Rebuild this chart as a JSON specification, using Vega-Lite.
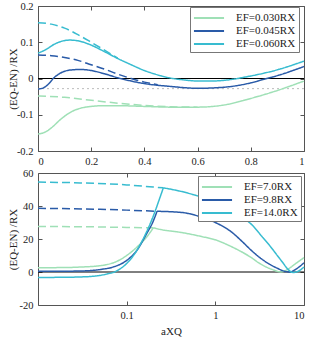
{
  "$schema": "https://vega.github.io/schema/vega-lite/v6.json",
  "padding": {"left": 6, "top": 0, "right": 8, "bottom": 0},
  "spacing": 22,
  "bounds": "flush",
  "resolve": {"scale": {"color": "independent"}, "legend": {"color": "independent"}},
  "config": {
    "font": "Liberation Serif",
    "view": {"stroke": "#555", "strokeWidth": 1},
    "axis": {"grid": false, "domain": false, "labelFont": "Liberation Serif", "labelFontSize": 10.5, "labelColor": "#222", "tickColor": "#555", "tickSize": -4, "labelPadding": 9, "titleFont": "Liberation Serif", "titleFontSize": 11, "titleFontWeight": "normal", "titleColor": "#222"},
    "legend": {"strokeColor": "#777", "fillColor": "white", "padding": 3, "labelFont": "Liberation Serif", "labelFontSize": 11, "labelColor": "#222", "symbolType": "M-2.15,0L2.15,0", "symbolSize": 196, "symbolStrokeWidth": 2, "symbolOffset": 8, "labelOffset": 19, "rowPadding": 0, "cornerRadius": 0}
  },
  "vconcat": [
    {
      "width": 266,
      "height": 145,
      "layer": [
        {
          "data": {"values": [{}]},
          "mark": {"type": "rule", "color": "#bbbbbb", "strokeDash": [2, 3], "strokeWidth": 1},
          "encoding": {"y": {"datum": -0.028, "type": "quantitative", "axis": null}}
        },
        {
          "data": {"values": [{}]},
          "mark": {"type": "rule", "color": "black", "strokeWidth": 1},
          "encoding": {
            "x": {"datum": 0, "type": "quantitative", "axis": {"orient": "top", "labels": false, "title": null, "values": [0, 0.2, 0.4, 0.6, 0.8, 1]}},
            "x2": {"datum": 1},
            "y": {"datum": 0, "type": "quantitative", "axis": {"orient": "right", "labels": false, "title": null, "values": [-0.2, -0.1, 0, 0.1, 0.2]}}
          }
        },
        {
          "data": {"values": [
            {"x": 0, "y": -0.153, "s": "EF=0.030RX", "b": "solid"},
            {"x": 0.02, "y": -0.150, "s": "EF=0.030RX", "b": "solid"},
            {"x": 0.04, "y": -0.142, "s": "EF=0.030RX", "b": "solid"},
            {"x": 0.06, "y": -0.130, "s": "EF=0.030RX", "b": "solid"},
            {"x": 0.08, "y": -0.116, "s": "EF=0.030RX", "b": "solid"},
            {"x": 0.10, "y": -0.104, "s": "EF=0.030RX", "b": "solid"},
            {"x": 0.13, "y": -0.090, "s": "EF=0.030RX", "b": "solid"},
            {"x": 0.16, "y": -0.082, "s": "EF=0.030RX", "b": "solid"},
            {"x": 0.20, "y": -0.077, "s": "EF=0.030RX", "b": "solid"},
            {"x": 0.25, "y": -0.075, "s": "EF=0.030RX", "b": "solid"},
            {"x": 0.30, "y": -0.075, "s": "EF=0.030RX", "b": "solid"},
            {"x": 0.40, "y": -0.077, "s": "EF=0.030RX", "b": "solid"},
            {"x": 0.50, "y": -0.079, "s": "EF=0.030RX", "b": "solid"},
            {"x": 0.60, "y": -0.079, "s": "EF=0.030RX", "b": "solid"},
            {"x": 0.70, "y": -0.073, "s": "EF=0.030RX", "b": "solid"},
            {"x": 0.80, "y": -0.055, "s": "EF=0.030RX", "b": "solid"},
            {"x": 0.90, "y": -0.033, "s": "EF=0.030RX", "b": "solid"},
            {"x": 1.00, "y": -0.007, "s": "EF=0.030RX", "b": "solid"},
            {"x": 0, "y": -0.048, "s": "EF=0.030RX", "b": "dashed"},
            {"x": 0.1, "y": -0.052, "s": "EF=0.030RX", "b": "dashed"},
            {"x": 0.2, "y": -0.060, "s": "EF=0.030RX", "b": "dashed"},
            {"x": 0.3, "y": -0.068, "s": "EF=0.030RX", "b": "dashed"},
            {"x": 0.4, "y": -0.074, "s": "EF=0.030RX", "b": "dashed"},
            {"x": 0.5, "y": -0.078, "s": "EF=0.030RX", "b": "dashed"},
            {"x": 0.6, "y": -0.079, "s": "EF=0.030RX", "b": "dashed"},
            {"x": 0, "y": -0.029, "s": "EF=0.045RX", "b": "solid"},
            {"x": 0.02, "y": -0.026, "s": "EF=0.045RX", "b": "solid"},
            {"x": 0.04, "y": -0.015, "s": "EF=0.045RX", "b": "solid"},
            {"x": 0.06, "y": 0.002, "s": "EF=0.045RX", "b": "solid"},
            {"x": 0.08, "y": 0.013, "s": "EF=0.045RX", "b": "solid"},
            {"x": 0.10, "y": 0.020, "s": "EF=0.045RX", "b": "solid"},
            {"x": 0.13, "y": 0.024, "s": "EF=0.045RX", "b": "solid"},
            {"x": 0.16, "y": 0.025, "s": "EF=0.045RX", "b": "solid"},
            {"x": 0.20, "y": 0.022, "s": "EF=0.045RX", "b": "solid"},
            {"x": 0.25, "y": 0.013, "s": "EF=0.045RX", "b": "solid"},
            {"x": 0.30, "y": 0.002, "s": "EF=0.045RX", "b": "solid"},
            {"x": 0.35, "y": -0.007, "s": "EF=0.045RX", "b": "solid"},
            {"x": 0.40, "y": -0.014, "s": "EF=0.045RX", "b": "solid"},
            {"x": 0.50, "y": -0.022, "s": "EF=0.045RX", "b": "solid"},
            {"x": 0.60, "y": -0.027, "s": "EF=0.045RX", "b": "solid"},
            {"x": 0.70, "y": -0.024, "s": "EF=0.045RX", "b": "solid"},
            {"x": 0.80, "y": -0.012, "s": "EF=0.045RX", "b": "solid"},
            {"x": 0.85, "y": -0.002, "s": "EF=0.045RX", "b": "solid"},
            {"x": 0.90, "y": 0.008, "s": "EF=0.045RX", "b": "solid"},
            {"x": 1.00, "y": 0.033, "s": "EF=0.045RX", "b": "solid"},
            {"x": 0, "y": 0.065, "s": "EF=0.045RX", "b": "dashed"},
            {"x": 0.05, "y": 0.063, "s": "EF=0.045RX", "b": "dashed"},
            {"x": 0.10, "y": 0.058, "s": "EF=0.045RX", "b": "dashed"},
            {"x": 0.15, "y": 0.050, "s": "EF=0.045RX", "b": "dashed"},
            {"x": 0.20, "y": 0.038, "s": "EF=0.045RX", "b": "dashed"},
            {"x": 0.25, "y": 0.026, "s": "EF=0.045RX", "b": "dashed"},
            {"x": 0.30, "y": 0.012, "s": "EF=0.045RX", "b": "dashed"},
            {"x": 0.35, "y": 0.000, "s": "EF=0.045RX", "b": "dashed"},
            {"x": 0.40, "y": -0.010, "s": "EF=0.045RX", "b": "dashed"},
            {"x": 0.45, "y": -0.017, "s": "EF=0.045RX", "b": "dashed"},
            {"x": 0, "y": 0.070, "s": "EF=0.060RX", "b": "solid"},
            {"x": 0.03, "y": 0.080, "s": "EF=0.060RX", "b": "solid"},
            {"x": 0.06, "y": 0.094, "s": "EF=0.060RX", "b": "solid"},
            {"x": 0.09, "y": 0.103, "s": "EF=0.060RX", "b": "solid"},
            {"x": 0.12, "y": 0.106, "s": "EF=0.060RX", "b": "solid"},
            {"x": 0.15, "y": 0.104, "s": "EF=0.060RX", "b": "solid"},
            {"x": 0.20, "y": 0.092, "s": "EF=0.060RX", "b": "solid"},
            {"x": 0.25, "y": 0.074, "s": "EF=0.060RX", "b": "solid"},
            {"x": 0.30, "y": 0.055, "s": "EF=0.060RX", "b": "solid"},
            {"x": 0.35, "y": 0.038, "s": "EF=0.060RX", "b": "solid"},
            {"x": 0.40, "y": 0.022, "s": "EF=0.060RX", "b": "solid"},
            {"x": 0.45, "y": 0.010, "s": "EF=0.060RX", "b": "solid"},
            {"x": 0.50, "y": 0.001, "s": "EF=0.060RX", "b": "solid"},
            {"x": 0.55, "y": -0.004, "s": "EF=0.060RX", "b": "solid"},
            {"x": 0.60, "y": -0.007, "s": "EF=0.060RX", "b": "solid"},
            {"x": 0.65, "y": -0.007, "s": "EF=0.060RX", "b": "solid"},
            {"x": 0.70, "y": -0.005, "s": "EF=0.060RX", "b": "solid"},
            {"x": 0.80, "y": 0.007, "s": "EF=0.060RX", "b": "solid"},
            {"x": 0.90, "y": 0.024, "s": "EF=0.060RX", "b": "solid"},
            {"x": 1.00, "y": 0.048, "s": "EF=0.060RX", "b": "solid"},
            {"x": 0, "y": 0.154, "s": "EF=0.060RX", "b": "dashed"},
            {"x": 0.05, "y": 0.150, "s": "EF=0.060RX", "b": "dashed"},
            {"x": 0.10, "y": 0.139, "s": "EF=0.060RX", "b": "dashed"},
            {"x": 0.15, "y": 0.121, "s": "EF=0.060RX", "b": "dashed"},
            {"x": 0.20, "y": 0.100, "s": "EF=0.060RX", "b": "dashed"},
            {"x": 0.25, "y": 0.078, "s": "EF=0.060RX", "b": "dashed"},
            {"x": 0.30, "y": 0.056, "s": "EF=0.060RX", "b": "dashed"}
          ]},
          "mark": {"type": "line", "interpolate": "monotone", "strokeWidth": 1.5},
          "encoding": {
            "x": {"field": "x", "type": "quantitative", "scale": {"domain": [0, 1], "nice": false}, "axis": {"values": [0, 0.2, 0.4, 0.6, 0.8, 1], "labelExpr": "'' + datum.value", "title": null}},
            "y": {"field": "y", "type": "quantitative", "scale": {"domain": [-0.2, 0.2], "nice": false}, "axis": {"values": [-0.2, -0.1, 0, 0.1, 0.2], "labelExpr": "'' + datum.value", "labelPadding": 9, "title": "(EQ-EN) /RX", "titleX": -20}},
            "color": {"field": "s", "type": "nominal", "scale": {"domain": ["EF=0.030RX", "EF=0.045RX", "EF=0.060RX"], "range": ["#9fe0b6", "#2a5ba8", "#38bcd0"]}, "legend": {"title": null, "orient": "none", "legendX": 152, "legendY": 1}},
            "strokeDash": {"field": "b", "type": "nominal", "scale": {"domain": ["solid", "dashed"], "range": [[1, 0], [8, 4]]}, "legend": null}
          }
        }
      ],
      "resolve": {"axis": {"x": "independent", "y": "independent"}}
    },
    {
      "width": 266,
      "height": 132,
      "layer": [
        {
          "data": {"values": [{}]},
          "mark": {"type": "rule", "color": "black", "strokeWidth": 1},
          "encoding": {
            "x": {"datum": 0.01, "type": "quantitative", "axis": {"orient": "top", "labels": false, "title": null, "values": [0.1, 1, 10]}},
            "x2": {"datum": 10},
            "y": {"datum": 0, "type": "quantitative", "axis": {"orient": "right", "labels": false, "title": null, "values": [-20, 0, 20, 40, 60]}}
          }
        },
        {
          "data": {"values": [
            {"q": 0.01, "y": 27.6, "s": "EF=7.0RX", "b": "dashed", "g": "d"},
            {"q": 0.05, "y": 27.3, "s": "EF=7.0RX", "b": "dashed", "g": "d"},
            {"q": 0.1, "y": 27.0, "s": "EF=7.0RX", "b": "dashed", "g": "d"},
            {"q": 0.2, "y": 26.8, "s": "EF=7.0RX", "b": "dashed", "g": "d"},
            {"q": 0.01, "y": 2.6, "s": "EF=7.0RX", "b": "solid", "g": "lo"},
            {"q": 0.02, "y": 2.7, "s": "EF=7.0RX", "b": "solid", "g": "lo"},
            {"q": 0.03, "y": 3.0, "s": "EF=7.0RX", "b": "solid", "g": "lo"},
            {"q": 0.046, "y": 3.6, "s": "EF=7.0RX", "b": "solid", "g": "lo"},
            {"q": 0.06, "y": 4.5, "s": "EF=7.0RX", "b": "solid", "g": "lo"},
            {"q": 0.08, "y": 6.8, "s": "EF=7.0RX", "b": "solid", "g": "lo"},
            {"q": 0.1, "y": 10.0, "s": "EF=7.0RX", "b": "solid", "g": "lo"},
            {"q": 0.13, "y": 15.0, "s": "EF=7.0RX", "b": "solid", "g": "lo"},
            {"q": 0.167, "y": 21.0, "s": "EF=7.0RX", "b": "solid", "g": "lo"},
            {"q": 0.2, "y": 26.8, "s": "EF=7.0RX", "b": "solid", "g": "lo"},
            {"q": 0.2, "y": 26.8, "s": "EF=7.0RX", "b": "solid", "g": "hi"},
            {"q": 0.24, "y": 25.8, "s": "EF=7.0RX", "b": "solid", "g": "hi"},
            {"q": 0.43, "y": 23.8, "s": "EF=7.0RX", "b": "solid", "g": "hi"},
            {"q": 0.7, "y": 21.5, "s": "EF=7.0RX", "b": "solid", "g": "hi"},
            {"q": 1.0, "y": 19.5, "s": "EF=7.0RX", "b": "solid", "g": "hi"},
            {"q": 1.5, "y": 15.5, "s": "EF=7.0RX", "b": "solid", "g": "hi"},
            {"q": 2.06, "y": 11.7, "s": "EF=7.0RX", "b": "solid", "g": "hi"},
            {"q": 2.5, "y": 9.0, "s": "EF=7.0RX", "b": "solid", "g": "hi"},
            {"q": 3.2, "y": 5.0, "s": "EF=7.0RX", "b": "solid", "g": "hi"},
            {"q": 4.5, "y": 1.3, "s": "EF=7.0RX", "b": "solid", "g": "hi"},
            {"q": 5.5, "y": 0.0, "s": "EF=7.0RX", "b": "solid", "g": "hi"},
            {"q": 6.5, "y": 1.5, "s": "EF=7.0RX", "b": "solid", "g": "hi"},
            {"q": 8.0, "y": 5.0, "s": "EF=7.0RX", "b": "solid", "g": "hi"},
            {"q": 10.0, "y": 8.7, "s": "EF=7.0RX", "b": "solid", "g": "hi"},
            {"q": 0.01, "y": 38.6, "s": "EF=9.8RX", "b": "dashed", "g": "d"},
            {"q": 0.05, "y": 38.0, "s": "EF=9.8RX", "b": "dashed", "g": "d"},
            {"q": 0.1, "y": 37.5, "s": "EF=9.8RX", "b": "dashed", "g": "d"},
            {"q": 0.22, "y": 36.8, "s": "EF=9.8RX", "b": "dashed", "g": "d"},
            {"q": 0.01, "y": 0.5, "s": "EF=9.8RX", "b": "solid", "g": "lo"},
            {"q": 0.02, "y": 0.5, "s": "EF=9.8RX", "b": "solid", "g": "lo"},
            {"q": 0.03, "y": 0.6, "s": "EF=9.8RX", "b": "solid", "g": "lo"},
            {"q": 0.05, "y": 1.5, "s": "EF=9.8RX", "b": "solid", "g": "lo"},
            {"q": 0.07, "y": 3.0, "s": "EF=9.8RX", "b": "solid", "g": "lo"},
            {"q": 0.1, "y": 7.0, "s": "EF=9.8RX", "b": "solid", "g": "lo"},
            {"q": 0.13, "y": 13.0, "s": "EF=9.8RX", "b": "solid", "g": "lo"},
            {"q": 0.167, "y": 23.0, "s": "EF=9.8RX", "b": "solid", "g": "lo"},
            {"q": 0.2, "y": 31.0, "s": "EF=9.8RX", "b": "solid", "g": "lo"},
            {"q": 0.22, "y": 36.8, "s": "EF=9.8RX", "b": "solid", "g": "lo"},
            {"q": 0.22, "y": 36.8, "s": "EF=9.8RX", "b": "solid", "g": "hi"},
            {"q": 0.43, "y": 36.0, "s": "EF=9.8RX", "b": "solid", "g": "hi"},
            {"q": 0.63, "y": 34.0, "s": "EF=9.8RX", "b": "solid", "g": "hi"},
            {"q": 1.0, "y": 30.0, "s": "EF=9.8RX", "b": "solid", "g": "hi"},
            {"q": 1.5, "y": 24.5, "s": "EF=9.8RX", "b": "solid", "g": "hi"},
            {"q": 2.05, "y": 18.0, "s": "EF=9.8RX", "b": "solid", "g": "hi"},
            {"q": 2.5, "y": 13.5, "s": "EF=9.8RX", "b": "solid", "g": "hi"},
            {"q": 3.18, "y": 8.7, "s": "EF=9.8RX", "b": "solid", "g": "hi"},
            {"q": 4.0, "y": 5.0, "s": "EF=9.8RX", "b": "solid", "g": "hi"},
            {"q": 4.9, "y": 2.5, "s": "EF=9.8RX", "b": "solid", "g": "hi"},
            {"q": 6.0, "y": 0.5, "s": "EF=9.8RX", "b": "solid", "g": "hi"},
            {"q": 6.9, "y": 0.0, "s": "EF=9.8RX", "b": "solid", "g": "hi"},
            {"q": 8.0, "y": 1.5, "s": "EF=9.8RX", "b": "solid", "g": "hi"},
            {"q": 10.0, "y": 5.6, "s": "EF=9.8RX", "b": "solid", "g": "hi"},
            {"q": 0.01, "y": 54.5, "s": "EF=14.0RX", "b": "dashed", "g": "d"},
            {"q": 0.03, "y": 54.0, "s": "EF=14.0RX", "b": "dashed", "g": "d"},
            {"q": 0.1, "y": 52.8, "s": "EF=14.0RX", "b": "dashed", "g": "d"},
            {"q": 0.2, "y": 51.5, "s": "EF=14.0RX", "b": "dashed", "g": "d"},
            {"q": 0.259, "y": 51.0, "s": "EF=14.0RX", "b": "dashed", "g": "d"},
            {"q": 0.01, "y": -3.3, "s": "EF=14.0RX", "b": "solid", "g": "lo"},
            {"q": 0.02, "y": -3.2, "s": "EF=14.0RX", "b": "solid", "g": "lo"},
            {"q": 0.03, "y": -3.0, "s": "EF=14.0RX", "b": "solid", "g": "lo"},
            {"q": 0.045, "y": -2.4, "s": "EF=14.0RX", "b": "solid", "g": "lo"},
            {"q": 0.06, "y": -1.2, "s": "EF=14.0RX", "b": "solid", "g": "lo"},
            {"q": 0.075, "y": 0.3, "s": "EF=14.0RX", "b": "solid", "g": "lo"},
            {"q": 0.09, "y": 3.0, "s": "EF=14.0RX", "b": "solid", "g": "lo"},
            {"q": 0.11, "y": 7.5, "s": "EF=14.0RX", "b": "solid", "g": "lo"},
            {"q": 0.14, "y": 16.0, "s": "EF=14.0RX", "b": "solid", "g": "lo"},
            {"q": 0.17, "y": 25.0, "s": "EF=14.0RX", "b": "solid", "g": "lo"},
            {"q": 0.2, "y": 34.0, "s": "EF=14.0RX", "b": "solid", "g": "lo"},
            {"q": 0.23, "y": 43.0, "s": "EF=14.0RX", "b": "solid", "g": "lo"},
            {"q": 0.259, "y": 51.0, "s": "EF=14.0RX", "b": "solid", "g": "lo"},
            {"q": 0.259, "y": 51.0, "s": "EF=14.0RX", "b": "solid", "g": "hi"},
            {"q": 0.4, "y": 49.0, "s": "EF=14.0RX", "b": "solid", "g": "hi"},
            {"q": 0.6, "y": 46.5, "s": "EF=14.0RX", "b": "solid", "g": "hi"},
            {"q": 1.0, "y": 43.0, "s": "EF=14.0RX", "b": "solid", "g": "hi"},
            {"q": 1.5, "y": 38.5, "s": "EF=14.0RX", "b": "solid", "g": "hi"},
            {"q": 2.0, "y": 33.5, "s": "EF=14.0RX", "b": "solid", "g": "hi"},
            {"q": 2.65, "y": 28.0, "s": "EF=14.0RX", "b": "solid", "g": "hi"},
            {"q": 3.3, "y": 22.0, "s": "EF=14.0RX", "b": "solid", "g": "hi"},
            {"q": 4.13, "y": 15.8, "s": "EF=14.0RX", "b": "solid", "g": "hi"},
            {"q": 5.0, "y": 10.0, "s": "EF=14.0RX", "b": "solid", "g": "hi"},
            {"q": 5.78, "y": 5.6, "s": "EF=14.0RX", "b": "solid", "g": "hi"},
            {"q": 6.5, "y": 2.0, "s": "EF=14.0RX", "b": "solid", "g": "hi"},
            {"q": 7.5, "y": -0.3, "s": "EF=14.0RX", "b": "solid", "g": "hi"},
            {"q": 8.5, "y": 0.3, "s": "EF=14.0RX", "b": "solid", "g": "hi"},
            {"q": 10.0, "y": 3.0, "s": "EF=14.0RX", "b": "solid", "g": "hi"}
          ]},
          "mark": {"type": "line", "interpolate": "monotone", "strokeWidth": 1.5},
          "encoding": {
            "x": {"field": "q", "type": "quantitative", "scale": {"type": "log", "domain": [0.01, 10], "nice": false}, "axis": {"values": [0.1, 1, 10], "labelExpr": "'' + datum.value", "title": "aXQ", "titlePadding": 5}},
            "y": {"field": "y", "type": "quantitative", "scale": {"domain": [-20, 60], "nice": false}, "axis": {"values": [-20, 0, 20, 40, 60], "labelExpr": "'' + datum.value", "labelPadding": 9, "title": "(EQ-EN) /RX", "titleX": -20}},
            "color": {"field": "s", "type": "nominal", "scale": {"domain": ["EF=7.0RX", "EF=9.8RX", "EF=14.0RX"], "range": ["#9fe0b6", "#2a5ba8", "#38bcd0"]}, "legend": {"title": null, "orient": "none", "legendX": 160, "legendY": 3}},
            "strokeDash": {"field": "b", "type": "nominal", "scale": {"domain": ["solid", "dashed"], "range": [[1, 0], [8, 4]]}, "legend": null},
            "detail": {"field": "g"}
          }
        }
      ],
      "resolve": {"axis": {"x": "independent", "y": "independent"}}
    }
  ]
}
